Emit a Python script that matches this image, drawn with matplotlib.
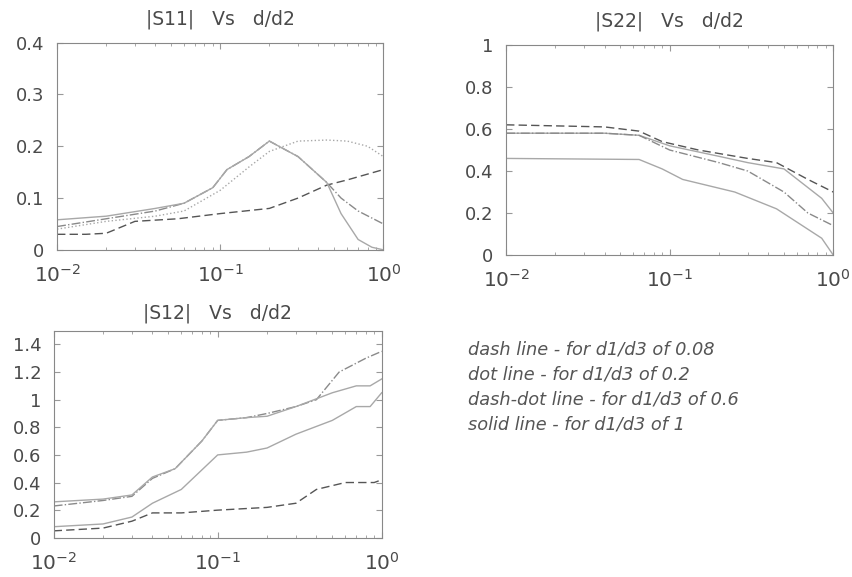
import numpy as np
import matplotlib
matplotlib.use("Agg")
import matplotlib.pyplot as plt
from matplotlib.ticker import LogLocator, NullFormatter

plt.rcParams['font.family'] = ['DejaVu Sans']
plt.rcParams['mathtext.fontset'] = 'dejavusans'
plt.rcParams['mathtext.default'] = 'regular'

# |S11| vs d/d2
s11_x_dash = [0.01, 0.015, 0.02, 0.03, 0.055, 0.1, 0.2, 0.3, 0.45, 0.6, 1.0]
s11_dash = [0.03, 0.03, 0.032, 0.055, 0.06, 0.07, 0.08, 0.1, 0.125, 0.135, 0.155]
s11_x_dot = [0.01, 0.02, 0.04, 0.06, 0.1, 0.15, 0.2, 0.3, 0.45, 0.6, 0.8, 1.0]
s11_dot = [0.04, 0.055, 0.065, 0.075, 0.115, 0.16, 0.19, 0.21, 0.212, 0.21, 0.2, 0.18]
s11_x_dashdot = [0.01, 0.02, 0.04, 0.06, 0.09, 0.11, 0.15, 0.2, 0.3, 0.45, 0.55, 0.7, 1.0]
s11_dashdot = [0.045, 0.06, 0.075, 0.09, 0.12, 0.155, 0.18, 0.21, 0.18, 0.13, 0.1, 0.075, 0.05]
s11_x_solid = [0.01, 0.02, 0.04, 0.06, 0.09, 0.11, 0.15, 0.2, 0.3, 0.45, 0.55, 0.7, 0.85, 1.0]
s11_solid = [0.058, 0.065, 0.08, 0.09, 0.12, 0.155, 0.18, 0.21, 0.18, 0.13, 0.07, 0.02, 0.005, 0.0]

# |S22| vs d/d2
s22_x_dash = [0.01, 0.04, 0.065, 0.09, 0.15, 0.3, 0.45, 0.7, 1.0]
s22_dash = [0.62, 0.61, 0.59, 0.54, 0.5, 0.46, 0.44, 0.36, 0.3]
s22_x_dot = [0.01, 0.04, 0.065, 0.1, 0.2, 0.3, 0.5, 0.85, 1.0]
s22_dot = [0.58, 0.58, 0.57, 0.52, 0.47, 0.44, 0.41, 0.27, 0.2]
s22_x_dashdot = [0.01, 0.04, 0.065, 0.1, 0.2, 0.3, 0.5, 0.7, 1.0]
s22_dashdot = [0.58, 0.58, 0.57, 0.5, 0.44, 0.4, 0.3, 0.2, 0.14]
s22_x_solid = [0.01, 0.065, 0.09, 0.12, 0.25, 0.45, 0.85, 1.0]
s22_solid = [0.46, 0.455, 0.41, 0.36, 0.3, 0.22, 0.08, 0.0]

# |S12| vs d/d2
s12_x_dash = [0.01, 0.02, 0.03, 0.04, 0.06, 0.1, 0.2, 0.3, 0.4, 0.6, 0.9, 1.0]
s12_dash = [0.05, 0.07, 0.12, 0.18, 0.18, 0.2, 0.22, 0.25, 0.35, 0.4, 0.4, 0.42]
s12_x_dot = [0.01, 0.02, 0.03, 0.04, 0.06, 0.1, 0.15, 0.2, 0.3, 0.5, 0.7, 0.85, 1.0]
s12_dot = [0.08, 0.1, 0.15, 0.25, 0.35, 0.6, 0.62, 0.65, 0.75, 0.85, 0.95, 0.95, 1.05]
s12_x_dashdot = [0.01, 0.02, 0.03, 0.04, 0.055, 0.08, 0.1, 0.15, 0.2, 0.3, 0.4, 0.55, 0.8, 1.0]
s12_dashdot = [0.23, 0.27, 0.3, 0.43, 0.5, 0.7, 0.85, 0.87, 0.9, 0.95, 1.0, 1.2, 1.3, 1.35]
s12_x_solid = [0.01, 0.02, 0.03, 0.04, 0.055, 0.08, 0.1, 0.15, 0.2, 0.3, 0.5, 0.7, 0.85, 1.0]
s12_solid = [0.26, 0.28, 0.31, 0.44, 0.5, 0.7, 0.85, 0.87, 0.88, 0.95, 1.05, 1.1, 1.1, 1.15]

legend_lines = ["dash line - for d1/d3 of 0.08",
                "dot line - for d1/d3 of 0.2",
                "dash-dot line - for d1/d3 of 0.6",
                "solid line - for d1/d3 of 1"]

txt = '#4a4a4a'
fig = plt.figure(figsize=(8.52, 5.77), dpi=100)


def panel(rect, title, ylim, yticks, yticklabels, series, tpad):
    ax = fig.add_axes(rect)
    for (xs, ys, ls, col) in series:
        ax.plot(xs, ys, linestyle=ls, color=col, lw=1.0)
    ax.set_xscale('log')
    ax.set_xlim(0.01, 1)
    ax.set_ylim(*ylim)
    ax.set_yticks(yticks)
    ax.set_yticklabels(yticklabels)
    ax.set_xticks([0.01, 0.1, 1])
    ax.set_xticklabels(['$10^{-2}$', '$10^{-1}$', '$10^{0}$'])
    ax.xaxis.set_minor_locator(LogLocator(base=10, subs=np.arange(2, 10)))
    ax.xaxis.set_minor_formatter(NullFormatter())
    ax.tick_params(which='both', direction='in', top=True, right=True,
                   color='#999999', labelcolor=txt)
    ax.tick_params(axis='y', labelsize=13, pad=9)
    ax.tick_params(axis='x', labelsize=14.5, pad=10)
    ax.tick_params(which='major', length=4)
    ax.tick_params(which='minor', length=2)
    for s in ax.spines.values():
        s.set_color('#888888')
        s.set_linewidth(0.8)
    ax.set_title(title, color=txt, fontsize=13.5, pad=tpad)
    return ax


dk = '#555555'
lt = '#a8a8a8'
md = '#8a8a8a'

panel([0.067, 0.567, 0.383, 0.359], '|S11|   Vs   d/d2', (0, 0.4),
      [0, 0.1, 0.2, 0.3, 0.4], ['0', '0.1', '0.2', '0.3', '0.4'],
      [(s11_x_dash, s11_dash, (0, (6, 3)), dk),
       (s11_x_dot, s11_dot, ':', lt),
       (s11_x_dashdot, s11_dashdot, '-.', md),
       (s11_x_solid, s11_solid, '-', lt)], 13)

panel([0.594, 0.558, 0.384, 0.364], '|S22|   Vs   d/d2', (0, 1),
      [0, 0.2, 0.4, 0.6, 0.8, 1], ['0', '0.2', '0.4', '0.6', '0.8', '1'],
      [(s22_x_dash, s22_dash, (0, (6, 3)), dk),
       (s22_x_dot, s22_dot, '-', lt),
       (s22_x_dashdot, s22_dashdot, '-.', md),
       (s22_x_solid, s22_solid, '-', lt)], 13)

panel([0.063, 0.068, 0.385, 0.359], '|S12|   Vs   d/d2', (0, 1.5),
      [0, 0.2, 0.4, 0.6, 0.8, 1.0, 1.2, 1.4],
      ['0', '0.2', '0.4', '0.6', '0.8', '1', '1.2', '1.4'],
      [(s12_x_dash, s12_dash, (0, (6, 3)), dk),
       (s12_x_dot, s12_dot, '-', lt),
       (s12_x_dashdot, s12_dashdot, '-.', md),
       (s12_x_solid, s12_solid, '-', lt)], 9)

for i, s in enumerate(legend_lines):
    fig.text(468 / 852, 1 - (349 + 25.3 * i) / 577, s, style='italic',
             color='#555555', fontsize=12.8, va='center', ha='left')

fig.savefig('out.png', dpi=100)
